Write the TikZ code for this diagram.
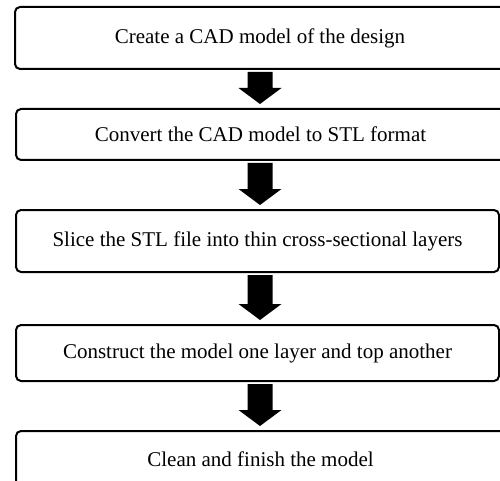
\documentclass[tikz,border=0pt]{standalone}
\usepackage{fontspec}
\setmainfont{Liberation Serif}
\usetikzlibrary{calc}
\newcommand\blockarrow[2]{%
  \fill let \p1=(#1.south), \p2=(#2.north) in
    (247.5pt,\y1-3pt) -- (272.5pt,\y1-3pt) -- (272.5pt,\y2+21pt) -- (281.5pt,\y2+21pt)
    -- (260pt,\y2+5pt) -- (238.5pt,\y2+21pt) -- (247.5pt,\y2+21pt) -- cycle;}
\begin{document}
\begin{tikzpicture}[x=1pt,y=-1pt,
  stepbox/.style={draw, line width=2pt, rounded corners=5pt, outer sep=0pt, inner sep=0pt,
    font=\fontsize{21}{25}\selectfont}]
\useasboundingbox (0,0) rectangle (500,481);
\begin{scope}
\clip (0,0) rectangle (500,481);
\node[stepbox, minimum width=490pt, minimum height=62pt] (s1) at (260,38) {Create a CAD model of the design};
\node[stepbox, minimum width=489pt, minimum height=51pt] (s2) at (260.5,134.5) {Convert the CAD model to STL format};
\node[stepbox, minimum width=483pt, minimum height=62pt] (s3) at (257.5,241) {Slice the STL file into thin cross-sectional layers};
\node[stepbox, minimum width=483pt, minimum height=56pt] (s4) at (257.5,353) {Construct the model one layer and top another};
\node[stepbox, minimum width=489pt, minimum height=56pt] (s5) at (260.5,459) {Clean and finish the model};
\blockarrow{s1}{s2}
\blockarrow{s2}{s3}
\blockarrow{s3}{s4}
\blockarrow{s4}{s5}
\end{scope}
\end{tikzpicture}
\end{document}
